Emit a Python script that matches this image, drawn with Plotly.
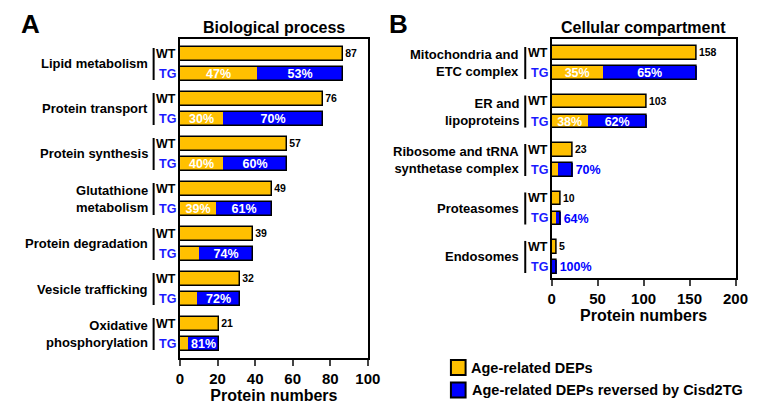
import plotly.graph_objects as go

# ---------------- data ----------------
bp_categories = ["Lipid metabolism", "Protein transport", "Protein synthesis",
                 "Glutathione<br>metabolism", "Protein degradation",
                 "Vesicle trafficking", "Oxidative<br>phosphorylation"]
bp_wt = [87, 76, 57, 49, 39, 32, 21]
bp_tg_age = [41, 23, 23, 19, 10, 9, 4]
bp_tg_rev = [46, 53, 34, 30, 29, 23, 17]
bp_age_pct = ["47%", "30%", "40%", "39%", "", "", ""]
bp_rev_pct = ["53%", "70%", "60%", "61%", "74%", "72%", "81%"]

cc_categories = ["Mitochondria and<br>ETC complex", "ER and<br>lipoproteins",
                 "Ribosome and tRNA<br>synthetase complex", "Proteasomes", "Endosomes"]
cc_wt = [158, 103, 23, 10, 5]
cc_tg_age = [55, 39, 7, 4, 0]
cc_tg_rev = [103, 64, 16, 6, 5]
cc_age_pct = ["35%", "38%", "", "", ""]
cc_rev_pct = ["65%", "62%", "70%", "64%", "100%"]

bp_ticks = [0, 20, 40, 60, 80, 100]
cc_ticks = [0, 50, 100, 150, 200]

# ---------------- style ----------------
W, H = 771, 409
FONT = "Liberation Sans, Arial, sans-serif"
YEL = "#FFC000"
BLU = "#0000FF"
TGBLU = "#1a1aff"

def px(x):
    return x / W

def py(y):
    return 1 - y / H

fig = go.Figure()

def add_panel(cats, wt, age, rev, age_pct, rev_pct, xa, ya, gap, bw, out_rev):
    n = len(cats)
    wt_y = [i * gap for i in range(n)]
    tg_y = [i * gap + 1 for i in range(n)]
    total = [a + r for a, r in zip(age, rev)]
    fig.add_trace(go.Bar(
        x=wt, y=wt_y, orientation="h", width=bw, xaxis=xa, yaxis=ya,
        marker=dict(color=YEL, line=dict(color="black", width=1.5)),
        text=[str(v) for v in wt], textposition="outside", constraintext="none",
        textfont=dict(family=FONT, size=10.5, color="black", weight="bold"),
        cliponaxis=False, showlegend=False, hoverinfo="skip"))
    fig.add_trace(go.Bar(
        x=age, y=tg_y, orientation="h", width=bw, xaxis=xa, yaxis=ya,
        marker=dict(color=YEL, line=dict(width=0)),
        text=age_pct, textposition="inside", insidetextanchor="middle",
        constraintext="none",
        textfont=dict(family=FONT, size=12.5, color="white", weight="bold"),
        showlegend=False, hoverinfo="skip"))
    pos = ["outside" if o else "inside" for o in out_rev]
    cols = [BLU if o else "white" for o in out_rev]
    fig.add_trace(go.Bar(
        x=rev, base=age, y=tg_y, orientation="h", width=bw, xaxis=xa, yaxis=ya,
        marker=dict(color=BLU, line=dict(width=0)),
        text=rev_pct, textposition=pos, insidetextanchor="middle",
        constraintext="none",
        textfont=dict(family=FONT, size=12.5, color=cols, weight="bold"),
        cliponaxis=False, showlegend=False, hoverinfo="skip"))
    fig.add_trace(go.Bar(
        x=total, y=tg_y, orientation="h", width=bw, xaxis=xa, yaxis=ya,
        marker=dict(color="rgba(0,0,0,0)", line=dict(color="black", width=1.5)),
        showlegend=False, hoverinfo="skip"))
    return wt_y, tg_y

bp_wt_y, bp_tg_y = add_panel(bp_categories, bp_wt, bp_tg_age, bp_tg_rev, bp_age_pct,
                             bp_rev_pct, "x", "y", 2.25, 0.7, [False] * 7)
cc_wt_y, cc_tg_y = add_panel(cc_categories, cc_wt, cc_tg_age, cc_tg_rev, cc_age_pct,
                             cc_rev_pct, "x2", "y2", 2.42, 0.68,
                             [False, False, True, True, True])

axis_common = dict(showline=True, linecolor="black", linewidth=2.2, mirror=True,
                   showgrid=False, zeroline=False)

fig.update_layout(
    width=W, height=H, margin=dict(l=0, r=0, t=0, b=0),
    paper_bgcolor="white", plot_bgcolor="white",
    barmode="overlay", bargap=0,
    font=dict(family=FONT, color="black"),
    xaxis=dict(domain=[px(180), px(372)], range=[0, 100], anchor="y",
               tickvals=bp_ticks, ticks="outside", ticklen=6, tickwidth=2,
               tickfont=dict(size=15, weight="bold"),
               title=dict(text="Protein numbers", font=dict(size=16, weight="bold"),
                          standoff=4),
               **axis_common),
    yaxis=dict(domain=[py(358), py(39)], range=[15.2, -0.75], anchor="x",
               showticklabels=False, ticks="", **axis_common),
    xaxis2=dict(domain=[px(560), px(748)], range=[0, 200], anchor="y2",
                tickvals=cc_ticks, ticks="outside", ticklen=6, tickwidth=2,
                tickfont=dict(size=15, weight="bold"),
                title=dict(text="Protein numbers", font=dict(size=16, weight="bold"),
                           standoff=4),
                **axis_common),
    yaxis2=dict(domain=[py(278), py(39)], range=[11.23, -0.7], anchor="x2",
                showticklabels=False, ticks="", **axis_common),
)

ann = []
shapes = []

def labels(cats, wt_y, tg_y, yref, x_cat, x_sep, x_wt):
    for c, a, b in zip(cats, wt_y, tg_y):
        mid = (a + b) / 2
        ann.append(dict(text=c, x=px(x_cat), y=mid, xref="paper", yref=yref,
                        xanchor="right", yanchor="middle", align="right", showarrow=False,
                        font=dict(size=13, weight="bold", color="black")))
        ann.append(dict(text="WT", x=px(x_wt), y=a, xref="paper", yref=yref,
                        xanchor="right", yanchor="middle", showarrow=False,
                        font=dict(size=12.5, weight="bold", color="black")))
        ann.append(dict(text="TG", x=px(x_wt), y=b, xref="paper", yref=yref,
                        xanchor="right", yanchor="middle", showarrow=False,
                        font=dict(size=12.5, weight="bold", color=TGBLU)))
        shapes.append(dict(type="line", xref="paper", yref=yref, x0=px(x_sep), x1=px(x_sep),
                           y0=a - 0.3, y1=b + 0.3, line=dict(color="black", width=2)))

labels(bp_categories, bp_wt_y, bp_tg_y, "y", 149, 153, 178)
labels(cc_categories, cc_wt_y, cc_tg_y, "y2", 529, 533, 558)

# titles and panel letters
ann.append(dict(text="Biological process", x=px(276), y=py(27), xref="paper", yref="paper",
                showarrow=False, xanchor="center", yanchor="middle",
                font=dict(size=16, weight="bold")))
ann.append(dict(text="Cellular compartment", x=px(654), y=py(27), xref="paper", yref="paper",
                showarrow=False, xanchor="center", yanchor="middle",
                font=dict(size=16, weight="bold")))
ann.append(dict(text="A", x=px(15), y=py(24), xref="paper", yref="paper", showarrow=False,
                xanchor="left", yanchor="middle", font=dict(size=26, weight="bold")))
ann.append(dict(text="B", x=px(392), y=py(24), xref="paper", yref="paper", showarrow=False,
                xanchor="left", yanchor="middle", font=dict(size=26, weight="bold")))

# legend
legend_items = ["Age-related DEPs", "Age-related DEPs reversed by Cisd2TG"]
legend_colors = [YEL, BLU]
for i, (t, c) in enumerate(zip(legend_items, legend_colors)):
    y0 = 360 + i * 22.5
    shapes.append(dict(type="rect", xref="paper", yref="paper", x0=px(457), x1=px(472),
                       y0=py(y0), y1=py(y0 + 15), fillcolor=c,
                       line=dict(color="black", width=2)))
    ann.append(dict(text=t, x=px(475 + 2 * i), y=py(y0 + 7.5), xref="paper", yref="paper",
                    showarrow=False, xanchor="left", yanchor="middle",
                    font=dict(size=14.5, weight="bold")))

fig.update_layout(annotations=ann, shapes=shapes)
fig.write_html("out.html", config={"displayModeBar": False},
               post_script="document.body.style.margin='0';"
                           "document.body.style.overflow='hidden';")
